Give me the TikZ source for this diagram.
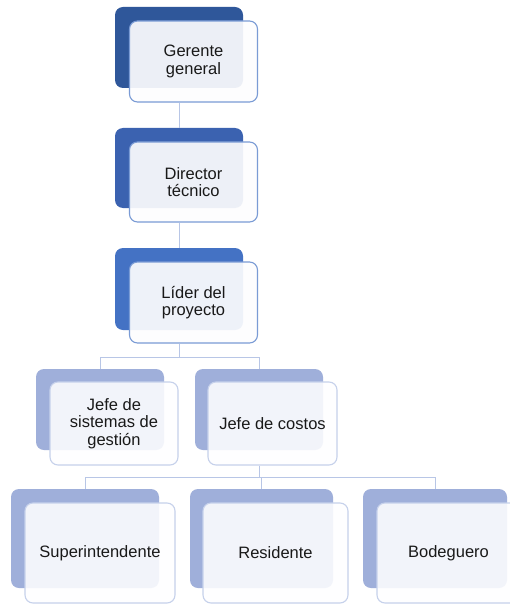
\documentclass[tikz,border=0pt]{standalone}
\usepackage{fontspec}
\setmainfont{Liberation Sans}
\begin{document}
\definecolor{navyA}{HTML}{2F579A}
\definecolor{navyB}{HTML}{3B62B0}
\definecolor{navyC}{HTML}{4472C4}
\definecolor{lav}{HTML}{9FAFDA}
\definecolor{edgeDark}{HTML}{7A9BD5}
\definecolor{edgeLight}{HTML}{C6D1EB}
\definecolor{wire}{HTML}{B8C6E6}
\begin{tikzpicture}[x=1pt,y=-1pt,
  back/.style={rectangle,rounded corners=8pt,inner sep=0pt,draw=none},
  front/.style={rectangle,rounded corners=8pt,inner sep=2pt,line width=1.1pt,
    align=center,font=\fontsize{16.5}{17.5}\selectfont,text=black!90},
  topfront/.style={front,draw=edgeDark,fill=#1,fill opacity=0.92,text opacity=1},
  lowfront/.style={front,draw=edgeLight,fill=#1,fill opacity=0.88,text opacity=1},
  link/.style={draw=wire,line width=1pt}]
\useasboundingbox (0,0) rectangle (510,604);
\fill[white] (0,0) rectangle (510,604);

% upper chain
\node[back,fill=navyA,minimum width=128pt,minimum height=81pt] (b1) at (179,47.5) {};
\node[topfront=white!90!navyA!10,minimum width=128pt,minimum height=81pt] (f1) at (193.5,61.5) {Gerente\\general};
\node[back,fill=navyB,minimum width=128pt,minimum height=80pt] (b2) at (179,168) {};
\node[topfront=white!90!navyA!10,minimum width=128pt,minimum height=80pt] (f2) at (193.5,182) {Director\\técnico};
\node[back,fill=navyC,minimum width=128pt,minimum height=82pt] (b3) at (179,289) {};
\node[topfront=white!90!navyA!10,minimum width=128pt,minimum height=81pt] (f3) at (193.5,302.5) {Líder del\\proyecto};

% fourth row
\node[back,fill=lav,minimum width=128pt,minimum height=81pt] (b4a) at (100,409.5) {};
\node[lowfront=white!96!navyA!10,minimum width=128pt,minimum height=83pt] (f4a) at (114,423.5) {Jefe de\\sistemas de\\gestión};
\node[back,fill=lav,minimum width=128pt,minimum height=81pt] (b4b) at (259,409.5) {};
\node[lowfront=white!96!navyA!10,minimum width=129pt,minimum height=83pt] (f4b) at (272.5,423.5) {Jefe de costos};

% fifth row
\node[back,fill=lav,minimum width=148pt,minimum height=99pt] (b5a) at (85,538.5) {};
\node[lowfront=white!96!navyA!10,minimum width=150pt,minimum height=100pt] (f5a) at (100,553) {Superintendente};
\node[back,fill=lav,minimum width=143pt,minimum height=99pt] (b5b) at (261.5,538.5) {};
\node[lowfront=white!96!navyA!10,minimum width=145pt,minimum height=100pt] (f5b) at (275.5,553) {Residente};
\node[back,fill=lav,minimum width=144pt,minimum height=99pt] (b5c) at (435,538.5) {};
\node[lowfront=white!96!navyA!10,minimum width=143pt,minimum height=100pt] (f5c) at (448.5,553) {Bodeguero};

% connectors
\draw[link] (b1 |- f1.south) -- (b2.north);
\draw[link] (b2 |- f2.south) -- (b3.north);
\draw[link] (b3 |- f3.south) -- ++(0,14) coordinate (j3) -| (b4a.north);
\draw[link] (j3) -| (b4b.north);
\draw[link] (b4b |- f4b.south) -- ++(0,12) coordinate (j4) -| (b5a.north);
\draw[link] (j4) -| (b5b.north);
\draw[link] (j4) -| (b5c.north);
\end{tikzpicture}
\end{document}
